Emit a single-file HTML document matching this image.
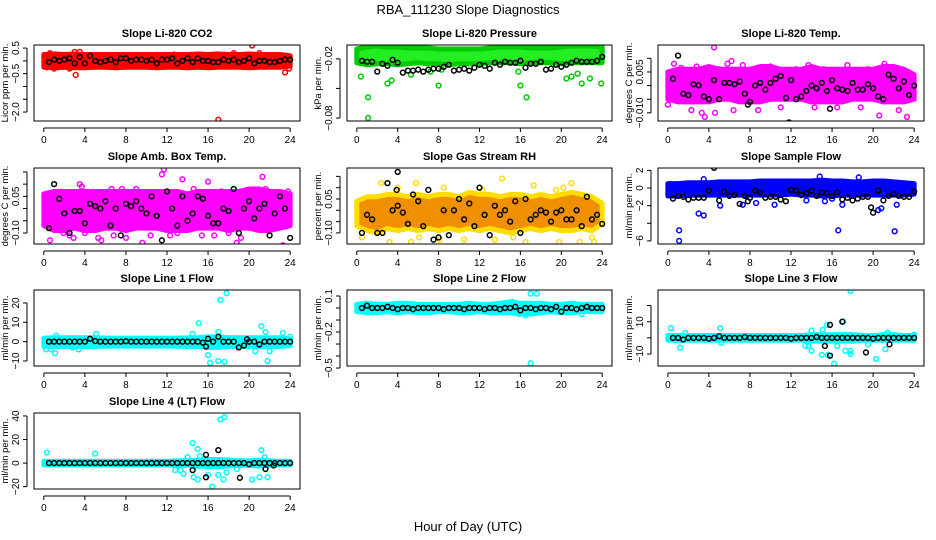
<!DOCTYPE html>
<html><head><meta charset="utf-8"><style>
html,body{margin:0;padding:0;background:#fff;}
svg{display:block;font-family:"Liberation Sans",sans-serif;}
</style></head><body>
<svg id="chart" width="936" height="540" viewBox="0 0 936 540" xmlns="http://www.w3.org/2000/svg">
<text x="468" y="14" text-anchor="middle" font-size="13">RBA_111230  Slope Diagnostics</text>
<text x="468" y="531" text-anchor="middle" font-size="13">Hour of Day (UTC)</text>
</svg>
<script>
// shared x data
const hours = [0,1,2,3,4,5,6,7,8,9,10,11,12,13,14,15,16,17,18,19,20,21,22,23,24];
const blackHours = [0.5,1,1.5,2,2.5,3,3.5,4,4.5,5,5.5,6,6.5,7,7.5,8,8.5,9,9.5,10,10.5,11,11.5,12,12.5,13,13.5,14,14.5,15,15.5,16,16.5,17,17.5,18,18.5,19,19.5,20,20.5,21,21.5,22,22.5,23,23.5,24];
const xTicks = [0,4,8,12,16,20,24];

// Panel 1: CO2
const co2Lo = [-0.25,-0.27,-0.25,-0.27,-0.27,-0.25,-0.25,-0.27,-0.25,-0.25,-0.25,-0.27,-0.25,-0.25,-0.27,-0.25,-0.27,-0.25,-0.25,-0.25,-0.27,-0.25,-0.25,-0.25,-0.2];
const co2Hi = [0.25,0.27,0.25,0.27,0.25,0.25,0.25,0.25,0.25,0.25,0.25,0.25,0.25,0.25,0.25,0.27,0.25,0.27,0.25,0.25,0.27,0.25,0.25,0.25,0.2];
const co2OutX = [0.6,1.0,3.0,3.5,3.1,17.0,20.3,23.5,23.9,16.8,21.0,0.3,2.5,12.7,18.5];
const co2OutY = [0.3,-0.3,0.35,0.35,-0.55,-2.3,0.6,-0.45,-0.3,0.25,0.3,-0.25,-0.3,0.25,0.3];
const co2Black = [-0.05,0.05,0.0,0.05,0.1,-0.1,0.15,-0.1,0.2,0.0,-0.05,0.0,0.05,-0.05,0.1,0.1,0.0,0.05,0.05,0.0,0.05,-0.1,0.05,0.05,0.1,-0.1,0.0,0.1,-0.05,0.1,0.0,0.0,-0.05,-0.05,0.05,0.0,0.05,-0.05,0.0,0.1,-0.1,0.0,0.0,-0.05,-0.05,0.0,0.05,0.05];
const co2BlackOutX = [];
const co2BlackOutY = [];

// Panel 2: Pressure
const presLo = [-0.024,-0.026,-0.025,-0.025,-0.026,-0.025,-0.024,-0.025,-0.025,-0.026,-0.025,-0.025,-0.025,-0.024,-0.024,-0.024,-0.025,-0.024,-0.024,-0.024,-0.025,-0.024,-0.024,-0.024,-0.024];
const presHi = [-0.01,-0.008,-0.007,-0.008,-0.008,-0.009,-0.009,-0.009,-0.01,-0.01,-0.01,-0.01,-0.01,-0.009,-0.008,-0.008,-0.008,-0.009,-0.009,-0.009,-0.008,-0.007,-0.007,-0.007,-0.008];
const presOutX = [0.4,1.1,1.1,3.0,3.4,5.3,8.0,7.2,16.0,16.6,21.0,22.0,23.9,20.5,22.8,8.3,15.8,21.6,0.6];
const presOutY = [-0.038,-0.059,-0.08,-0.045,-0.042,-0.036,-0.047,-0.033,-0.047,-0.059,-0.038,-0.045,-0.045,-0.04,-0.04,-0.031,-0.033,-0.035,-0.007];
const presBlack = [-0.022,-0.023,-0.023,-0.033,-0.025,-0.027,-0.021,-0.024,-0.034,-0.032,-0.032,-0.031,-0.033,-0.031,-0.03,-0.03,-0.028,-0.026,-0.032,-0.031,-0.03,-0.032,-0.029,-0.026,-0.027,-0.03,-0.024,-0.026,-0.023,-0.024,-0.024,-0.022,-0.029,-0.025,-0.025,-0.023,-0.031,-0.03,-0.026,-0.028,-0.026,-0.024,-0.022,-0.023,-0.023,-0.023,-0.022,-0.018];
const presBlackOutX = [];
const presBlackOutY = [];

// Panel 3: Li-820 Temp
const tempLo = [-0.005,-0.006,-0.006,-0.006,-0.006,-0.005,-0.005,-0.006,-0.006,-0.006,-0.005,-0.005,-0.005,-0.005,-0.006,-0.006,-0.006,-0.006,-0.005,-0.005,-0.005,-0.006,-0.006,-0.006,-0.005];
const tempHi = [0.005,0.006,0.006,0.006,0.007,0.006,0.006,0.006,0.006,0.007,0.007,0.006,0.006,0.006,0.007,0.006,0.006,0.006,0.006,0.006,0.006,0.007,0.007,0.006,0.004];
const tempOutX = [0.0,0.6,2.3,3.3,3.6,4.6,6.2,5.8,7.3,10.0,13.7,17.5,21.1,20.6,23.3,22.5,6.4,1.3,2.8,4.5,9.0,11.0,15.2,18.8,8.8,12.5,19.5,14.3,0.3,5.0,16.5,23.6];
const tempOutY = [-0.007,0.008,-0.009,-0.01,-0.0115,-0.01,0.009,0.008,0.0075,0.007,0.0075,0.0075,0.008,-0.011,-0.0115,-0.009,-0.009,0.0065,0.007,0.014,0.006,-0.008,0.006,-0.008,-0.009,0.006,0.006,-0.008,0.005,0.006,-0.008,0.002];
const tempBlack = [0.0025,0.011,-0.003,-0.0035,0.0005,0.0001,-0.004,-0.005,0.002,-0.005,0.001,0.001,0.0005,0.0015,-0.003,-0.006,0.0,0.001,-0.0015,0.001,0.0025,0.0035,-0.0045,0.002,-0.005,-0.004,-0.002,0.0,-0.001,0.001,-0.002,0.002,-0.001,-0.0015,-0.002,0.001,-0.0015,-0.0015,0.0005,-0.001,-0.004,-0.005,0.004,0.0025,-0.001,0.0015,-0.0035,0.0];
const tempBlackOutX = [11.8,15.8,7.8];
const tempBlackOutY = [-0.0135,-0.0085,-0.007];

// Panel 4: Amb Box Temp
const ambLo = [-0.07,-0.09,-0.09,-0.08,-0.09,-0.09,-0.08,-0.08,-0.09,-0.08,-0.08,-0.08,-0.09,-0.09,-0.09,-0.08,-0.08,-0.08,-0.09,-0.08,-0.08,-0.09,-0.09,-0.08,-0.07];
const ambHi = [0.06,0.07,0.07,0.07,0.07,0.07,0.07,0.07,0.07,0.07,0.07,0.07,0.07,0.07,0.06,0.07,0.07,0.07,0.07,0.07,0.08,0.08,0.07,0.07,0.06];
const ambOutX = [0.3,0.6,1.9,2.5,3.5,3.7,5.3,5.6,6.6,6.8,7.6,8.0,9.0,9.6,10.4,11.5,11.7,12.3,13.5,14.6,15.4,16.0,16.6,17.3,18.8,19.2,19.7,20.6,21.3,21.6,22.1,23.3,23.8,2.9,4.0,13.0,18.0];
const ambOutY = [-0.05,-0.13,-0.1,-0.11,0.1,0.09,-0.12,-0.13,0.08,-0.11,0.08,-0.12,0.08,-0.14,-0.11,0.14,0.16,-0.11,0.12,0.08,-0.11,0.11,-0.11,0.07,-0.14,-0.12,0.07,0.07,0.13,0.08,0.06,-0.15,0.07,-0.12,-0.1,-0.1,-0.1];
const ambBlack = [-0.08,0.1,0.04,-0.02,-0.1,-0.01,-0.01,-0.06,0.02,0.01,0.0,0.03,-0.07,0.0,-0.11,0.02,0.01,0.03,0.0,-0.02,0.05,-0.03,-0.13,0.07,0.0,-0.07,0.05,-0.05,-0.02,0.05,0.04,-0.03,-0.06,-0.06,0.0,-0.01,0.08,-0.1,0.0,0.03,-0.04,0.0,0.02,-0.11,-0.02,0.05,0.0,-0.12];
const ambBlackOutX = [];
const ambBlackOutY = [];

// Panel 5: Gas Stream RH
const rhLo = [-0.07,-0.09,-0.1,-0.08,-0.09,-0.08,-0.09,-0.08,-0.09,-0.08,-0.09,-0.08,-0.09,-0.08,-0.09,-0.1,-0.09,-0.08,-0.09,-0.08,-0.09,-0.09,-0.08,-0.09,-0.06];
const rhHi = [0.04,0.06,0.06,0.07,0.07,0.06,0.07,0.06,0.07,0.07,0.06,0.08,0.07,0.07,0.06,0.07,0.07,0.06,0.07,0.06,0.07,0.08,0.07,0.06,0.03];
const rhOutX = [2.4,4.0,5.3,5.8,8.5,12.0,12.3,14.2,15.3,17.3,19.5,20.2,21.0,23.2,3.2,6.1,8.1,13.5,16.5,19.8,21.8,23.0,0.5,10.5];
const rhOutY = [0.12,0.1,-0.14,0.12,0.1,0.1,0.09,0.14,-0.12,0.11,0.09,0.1,0.12,-0.14,-0.14,-0.12,-0.13,-0.13,-0.14,-0.14,-0.14,-0.12,-0.12,-0.13];
const rhBlack = [-0.1,-0.02,-0.04,-0.1,-0.1,0.12,0.0,0.02,-0.01,-0.06,0.07,0.04,-0.07,0.09,-0.13,-0.12,0.0,-0.11,0.0,0.05,-0.04,0.03,-0.07,0.1,-0.02,-0.11,0.02,-0.02,0.0,-0.05,0.04,-0.1,0.05,-0.04,-0.02,0.0,-0.01,-0.05,-0.01,0.0,-0.04,-0.04,0.0,-0.07,0.06,-0.04,-0.02,-0.06];
const rhBlackOutX = [4.0,3.9];
const rhBlackOutY = [0.17,0.09];

// Panel 6: Sample Flow
const flowLo = [-0.9,-0.9,-0.8,-0.8,-0.8,-0.8,-0.8,-0.8,-0.8,-0.8,-0.8,-0.8,-0.7,-0.8,-0.8,-0.9,-0.9,-0.8,-0.8,-0.8,-0.8,-0.8,-0.8,-0.8,-0.7];
const flowHi = [0.5,0.5,0.6,0.6,0.6,0.7,0.7,0.7,0.7,0.8,0.8,0.8,0.8,0.8,0.8,0.9,0.8,0.8,0.7,0.7,0.8,0.8,0.7,0.6,0.5];
const flowOutX = [1.1,1.1,3.0,3.5,5.1,7.3,10.4,16.6,17.0,20.5,20.8,22.1,22.3,14.8,18.6,3.5,8.6,13.5,15.3,16.0];
const flowOutY = [-4.8,-6.0,-2.9,-3.1,-2.0,-1.9,-1.9,-4.8,-1.9,-2.5,-2.3,-4.9,-1.9,1.3,1.2,1.0,-1.7,-1.4,-1.5,-1.2];
const flowBlack = [-1.2,-0.9,-1.0,-1.3,-1.1,-1.1,-1.1,-0.3,2.3,-1.4,-0.4,-0.9,-0.8,-1.8,-0.9,-1.1,-0.3,-0.5,-1.1,-1.0,-1.0,-1.3,-1.5,-0.2,-0.3,-0.8,-0.6,-0.3,-0.9,-0.5,-0.6,-0.9,-0.5,-1.3,-1.1,-1.4,-1.2,-1.0,-1.0,-2.8,-0.3,-1.4,-0.9,-0.7,-0.9,-1.0,-1.0,-0.4];
const flowBlackOutX = [19.8,7.8];
const flowBlackOutY = [-2.2,-1.5];

// Panel 7: Line 1 Flow
const l1Lo = [-2.5,-2.5,-2.5,-2.5,-2.5,-2.5,-2.3,-2.3,-2.3,-2.3,-2.3,-2.3,-2.3,-2.3,-2.5,-2.5,-3,-3,-2.5,-2.5,-2.5,-2.5,-2.5,-2.5,-2];
const l1Hi = [1.8,2,2,2,2,2,1.8,1.8,1.8,1.8,1.8,1.8,1.8,1.8,2,2,2.5,2.5,2,2,2,2,2,2,1.5];
const l1OutX = [0.2,0.7,1.1,1.2,2.8,3.4,5.1,15.1,16.0,16.2,17.0,17.6,17.2,17.8,21.2,21.6,20.6,21.8,23.3,14.5,17.0,22.0,24.0];
const l1OutY = [-4,-4,-6,3,-3,-4,4,9.5,-7,-11,-10,-10.5,21.5,25,8,5,-5,-10,4.5,4,5,-5,2.5];
const l1Black = [0,0,0,0,0,0,0,0,1.5,0.3,0,0,0,0,0,0.2,0,0,0,0,0,0,0,0,0,0,0,0,0,0,-0.5,1.5,0,2.5,0,0,0,-3,-2,0,0,-1.5,0,0,0,0,0,0];
const l1BlackOutX = [15.8,19.8];
const l1BlackOutY = [-2.5,1.2];

// Panel 8: Line 2 Flow
const l2Lo = [-0.03,-0.04,-0.04,-0.03,-0.04,-0.03,-0.04,-0.04,-0.03,-0.03,-0.04,-0.04,-0.03,-0.04,-0.04,-0.04,-0.05,-0.05,-0.04,-0.03,-0.04,-0.04,-0.03,-0.03,-0.03];
const l2Hi = [0.03,0.04,0.03,0.03,0.04,0.04,0.03,0.03,0.03,0.03,0.03,0.04,0.03,0.03,0.04,0.05,0.04,0.04,0.04,0.03,0.03,0.04,0.03,0.03,0.03];
const l2OutX = [17.0,17.6,17.0,16.5,15.9,22.0,15.2];
const l2OutY = [0.12,0.12,-0.46,-0.06,-0.05,-0.05,0.05];
const l2Black = [0.0,0.02,0.0,0.0,0.0,0.01,0.0,-0.01,0.0,0.0,-0.01,0.0,0.0,0.0,0.0,0.0,-0.01,0.0,0.0,0.0,-0.01,0.0,0.0,0.0,-0.01,0.0,0.0,-0.01,0.0,0.0,0.01,-0.02,0.0,0.0,-0.01,0.0,0.0,-0.01,0.01,-0.03,0.0,0.0,-0.01,0.0,0.01,0.0,0.0,0.0];
const l2BlackOutX = [];
const l2BlackOutY = [];

// Panel 9: Line 3 Flow
const l3Lo = [-1.5,-1.5,-1.5,-1.5,-1.5,-1.5,-1.5,-1.5,-1.5,-1.5,-1.5,-1.5,-1.5,-1.5,-2,-2,-2,-2,-2,-1.5,-1.5,-1.5,-1.5,-1.5,-1.5];
const l3Hi = [1.5,1.5,1.5,1.5,1.5,1.5,1.5,1.5,1.5,1.5,1.5,1.5,1.5,1.5,2,2,2,2,2,1.5,1.5,2,2,1.5,1.5];
const l3OutX = [0.3,1.2,1.7,5.1,5.2,14.0,14.0,13.4,13.7,15.0,15.6,15.1,15.5,16.2,16.5,17.1,17.3,17.8,17.8,17.8,19.5,20.3,21.2,21.4,24.0];
const l3OutY = [6,-6,3,6,-3,4.5,-8,-5,-5,-10.5,-10.5,5,8,-16,-5,10,-8,-10,29,-8,-4,-13,-7,3,2];
const l3Black = [0,0,-1,0,0,0,0,-0.5,0,1,0,0,0,0,0.5,0,0,0,0,0,0,0,0,-0.5,0,0,0,0,0.5,0,0,0,0,0,0,0,0,0,0,-0.5,0,0,0,0,0,0,0,0];
const l3BlackOutX = [15.8,15.8,15.3,17.0,19.3,21.6];
const l3BlackOutY = [8,-11,-5,10,-9,-4];

// Panel 10: Line 4 (LT) Flow
const l4Lo = [-1.5,-1.5,-1.5,-1.5,-1.5,-1.5,-1.5,-1.5,-1.5,-1.5,-1.5,-1.5,-1.5,-2,-2,-2.5,-3,-3,-2.5,-2,-2,-2.5,-2,-1.5,-1.5];
const l4Hi = [1.5,1.5,1.5,1.5,1.5,1.5,1.5,1.5,1.5,1.5,1.5,1.5,1.5,2,2,2.5,3,3,2.5,2,2,2.5,2,1.5,1.5];
const l4OutX = [0.3,5.0,14.5,15.0,15.2,14.6,15.0,16.4,16.0,17.0,17.2,17.6,17.5,17.8,20.3,21.2,21.5,21.0,21.8,12.8,13.3,13.6,14.0,18.8];
const l4OutY = [9,8,17,12,6,-12,-14,-20,-10,-10,37,39,-14,-8,-14,11,5,-12,-12,-6,-6,-9,5,-5];
const l4Black = [0,0,0,0,0,0,0,0,0,0,0,0,0,0,0,0,0,0,0,0,0,0,0,0,0,0,0,0,0,0,0,0,0,0,0,0,0,0,0,-1,0,0,0,0,0,0,0,0];
const l4BlackOutX = [14.5,15.8,15.8,17.0,19.1,21.6,22.4];
const l4BlackOutY = [-6,7,-12,11,-12.5,-5,-2];

const panels = [
 {name:'co2',title:'Slope Li-820 CO2',ylab:'Licor ppm per min.',box:[34,45,300,121],ylim:[-2.35,0.62],ticks:[0.5,0,-0.5,-1,-1.5,-2],labels:[0.5,-0.5,-2.0],fmt:1,col:'#ff0000',fill:'#ff0000',lo:co2Lo,hi:co2Hi,ox:co2OutX,oy:co2OutY,bk:co2Black,bx:co2BlackOutX,by:co2BlackOutY},
 {name:'pressure',title:'Slope Li-820 Pressure',ylab:'kPa per min.',box:[347,45,612,121],ylim:[-0.083,-0.006],ticks:[-0.02,-0.05,-0.08],labels:[-0.02,-0.08],fmt:2,col:'#00cc00',fill:'#22ee22',lo:presLo,hi:presHi,ox:presOutX,oy:presOutY,bk:presBlack,bx:presBlackOutX,by:presBlackOutY},
 {name:'li820-temp',title:'Slope Li-820 Temp.',ylab:'degrees C per min.',box:[658,45,924,121],ylim:[-0.013,0.0149],ticks:[0.01,0.005,0,-0.005,-0.01],labels:[0.005,-0.010],fmt:3,col:'#ff00ff',fill:'#ff00ff',lo:tempLo,hi:tempHi,ox:tempOutX,oy:tempOutY,bk:tempBlack,bx:tempBlackOutX,by:tempBlackOutY},
 {name:'amb-box-temp',title:'Slope Amb. Box Temp.',ylab:'degrees C per min.',box:[34,168,300,244],ylim:[-0.145,0.166],ticks:[0.15,0.1,0.05,0,-0.05,-0.1],labels:[0.05,-0.10],fmt:2,col:'#ff00ff',fill:'#ff00ff',lo:ambLo,hi:ambHi,ox:ambOutX,oy:ambOutY,bk:ambBlack,bx:ambBlackOutX,by:ambBlackOutY},
 {name:'gas-stream-rh',title:'Slope Gas Stream RH',ylab:'percent per min.',box:[347,168,612,244],ylim:[-0.149,0.187],ticks:[0.15,0.1,0.05,0,-0.05,-0.1],labels:[0.05,-0.10],fmt:2,col:'#ffdd00',fill:'#f09000',lo:rhLo,hi:rhHi,ox:rhOutX,oy:rhOutY,bk:rhBlack,bx:rhBlackOutX,by:rhBlackOutY},
 {name:'sample-flow',title:'Slope Sample Flow',ylab:'ml/min per min.',box:[658,168,924,244],ylim:[-6.35,2.27],ticks:[2,0,-2,-4,-6],labels:[2,0,-2,-6],fmt:0,col:'#0000ff',fill:'#0000ff',lo:flowLo,hi:flowHi,ox:flowOutX,oy:flowOutY,bk:flowBlack,bx:flowBlackOutX,by:flowBlackOutY},
 {name:'line1-flow',title:'Slope Line 1 Flow',ylab:'ml/min per min.',box:[34,290,300,366],ylim:[-12.6,26.7],ticks:[20,10,0,-10],labels:[20,10,0,-10],fmt:0,col:'#00ffff',fill:'#00ffff',lo:l1Lo,hi:l1Hi,ox:l1OutX,oy:l1OutY,bk:l1Black,bx:l1BlackOutX,by:l1BlackOutY},
 {name:'line2-flow',title:'Slope Line 2 Flow',ylab:'ml/min per min.',box:[347,290,612,366],ylim:[-0.483,0.15],ticks:[0.1,0,-0.1,-0.2,-0.3,-0.4],labels:[0.1,-0.2],fmt:1,col:'#00ffff',fill:'#00ffff',lo:l2Lo,hi:l2Hi,ox:l2OutX,oy:l2OutY,bk:l2Black,bx:l2BlackOutX,by:l2BlackOutY,extra:[-0.5]},
 {name:'line3-flow',title:'Slope Line 3 Flow',ylab:'ml/min per min.',box:[658,290,924,366],ylim:[-17.4,29.6],ticks:[20,10,0,-10],labels:[10,-10],fmt:0,col:'#00ffff',fill:'#00ffff',lo:l3Lo,hi:l3Hi,ox:l3OutX,oy:l3OutY,bk:l3Black,bx:l3BlackOutX,by:l3BlackOutY},
 {name:'line4-flow',title:'Slope Line 4 (LT) Flow',ylab:'ml/min per min.',box:[34,413,300,489],ylim:[-22,42.5],ticks:[40,20,0,-20],labels:[40,20,0,-20],fmt:0,col:'#00ffff',fill:'#00ffff',lo:l4Lo,hi:l4Hi,ox:l4OutX,oy:l4OutY,bk:l4Black,bx:l4BlackOutX,by:l4BlackOutY}
];

const NS='http://www.w3.org/2000/svg';
const svg=document.getElementById('chart');
function mk(tag,attrs,parent){const e=document.createElementNS(NS,tag);for(const k in attrs)e.setAttribute(k,attrs[k]);(parent||svg).appendChild(e);return e;}
function fmtNum(v,d){let s=v.toFixed(d);return s.replace('-','\u2212');}

panels.forEach(p=>{
  const [x0,y0,x1,y1]=p.box;
  const g=mk('g',{});
  
  
  const xs=v=>x0+(x1-x0)*(v+0.96)/(24+1.92);
  const ys=v=>y1-(y1-y0)*(v-p.ylim[0])/(p.ylim[1]-p.ylim[0]);
  const cid='clip-'+p.name;
  const cp=mk('clipPath',{id:cid},g);mk('rect',{x:x0,y:y0,width:x1-x0,height:y1-y0},cp);
  const data=mk('g',{'clip-path':'url(#'+cid+')'},g);
  let pts=hours.map((h,i)=>xs(h)+','+ys(p.hi[i]));
  pts=pts.concat(hours.map((h,i)=>xs(h)+','+ys(p.lo[i])).reverse());
  const band=mk('polygon',{points:pts.join(' '),fill:p.fill,stroke:p.col,'stroke-width':5,'stroke-linejoin':'round'},data);
  
  
  p.ox.forEach((x,i)=>{
    const c=mk('circle',{cx:xs(x),cy:ys(p.oy[i]),r:2.4,fill:'none',stroke:p.col,'stroke-width':1.5},data);
    
    
  });
  blackHours.forEach((h,i)=>{
    const c=mk('circle',{cx:xs(h),cy:ys(p.bk[i]),r:2.4,fill:'none',stroke:'#000','stroke-width':1.5},data);
    
    
  });
  p.bx.forEach((x,i)=>{
    const c=mk('circle',{cx:xs(x),cy:ys(p.by[i]),r:2.4,fill:'none',stroke:'#000','stroke-width':1.5},data);
    
    
  });
  const box=mk('rect',{x:x0,y:y0,width:x1-x0,height:y1-y0,fill:'none',stroke:'#000','stroke-width':1},g);
  
  
  const t=mk('text',{x:(x0+x1)/2,y:y0-8,'text-anchor':'middle','font-size':11,'font-weight':'bold'},g);t.textContent=p.title;
  
  
  mk('line',{x1:xs(0),x2:xs(24),y1:y1+7,y2:y1+7,stroke:'#000'},g);
  xTicks.forEach(v=>{
    mk('line',{x1:xs(v),x2:xs(v),y1:y1+7,y2:y1+11,stroke:'#000'},g);
    const tl=mk('text',{x:xs(v),y:y1+22,'text-anchor':'middle','font-size':10},g);tl.textContent=v;
    
    
  });
  const ax=x0-7;
  const allT=p.ticks.concat(p.extra||[]);
  mk('line',{x1:ax,x2:ax,y1:ys(Math.max(...allT)),y2:ys(Math.min(...allT)),stroke:'#000'},g);
  allT.forEach(v=>mk('line',{x1:ax-4,x2:ax,y1:ys(v),y2:ys(v),stroke:'#000'},g));
  p.labels.concat(p.extra||[]).forEach(v=>{
    const yy=ys(v), xx=ax-8;
    const tl=mk('text',{x:xx,y:yy,'text-anchor':'middle','font-size':10,transform:'rotate(-90 '+xx+' '+yy+')'},g);
    tl.textContent=fmtNum(v,p.fmt);
    
    
  });
  const lx=x0-26, ly=(y0+y1)/2;
  const yl=mk('text',{x:lx,y:ly,'text-anchor':'middle','font-size':9.5,transform:'rotate(-90 '+lx+' '+ly+')'},g);
  yl.textContent=p.ylab;
  
  
});
</script>
</body></html>
